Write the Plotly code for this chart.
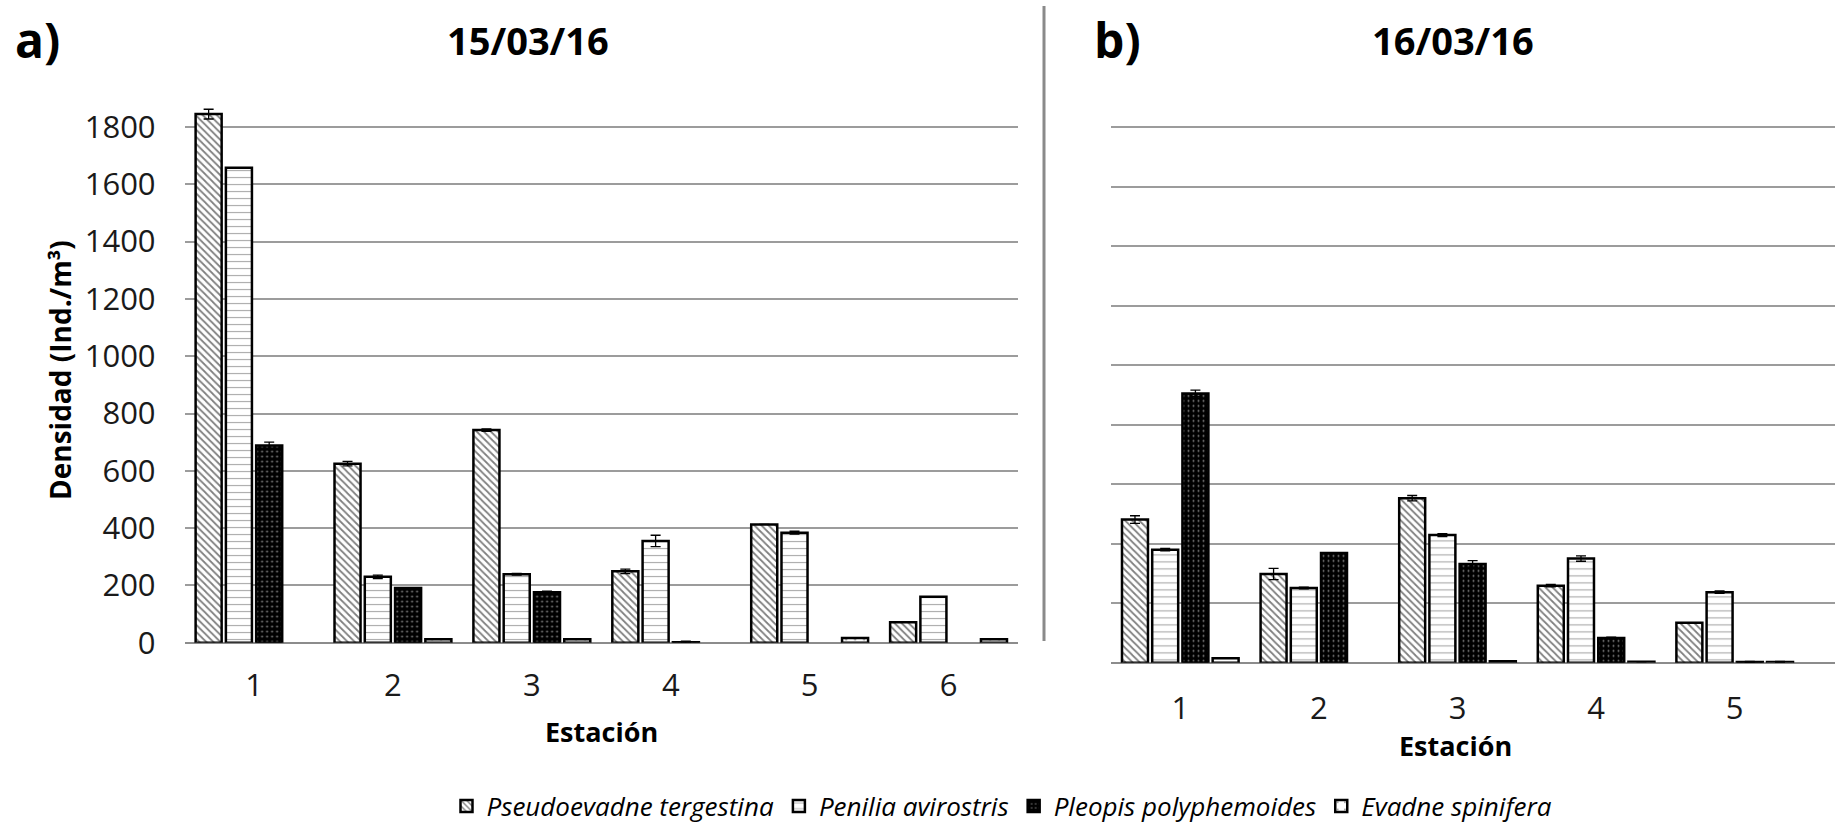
import plotly.graph_objects as go

W, H = 1835, 827

species = ["Pseudoevadne tergestina", "Penilia avirostris", "Pleopis polyphemoides", "Evadne spinifera"]

# Panel a) 15/03/16 - stations 1..6
stations_a = [1, 2, 3, 4, 5, 6]
pseudo_a = [1845, 625, 742, 249, 413, 71]
penilia_a = [1658, 230, 239, 355, 384, 160]
pleopis_a = [688, 191, 176, 2, None, None]
evadne_a = [None, 12, 12, None, 16, 12]
pseudo_a_err = [17, 8, 4, 8, 0, 0]
penilia_a_err = [0, 6, 3, 20, 5, 0]
pleopis_a_err = [12, 0, 4, 3, 0, 0]
evadne_a_err = [0, 0, 0, 0, 0, 0]

# Panel b) 16/03/16 - stations 1..5
stations_b = [1, 2, 3, 4, 5]
pseudo_b = [481, 298, 553, 259, 134]
penilia_b = [380, 251, 429, 350, 237]
pleopis_b = [905, 369, 332, 83, 2]
evadne_b = [15, None, 5, 3, 2]
pseudo_b_err = [13, 19, 9, 4, 0]
penilia_b_err = [4, 3, 5, 9, 4]
pleopis_b_err = [11, 0, 11, 3, 2]
evadne_b_err = [0, 0, 0, 0, 2]

y_ticks = [0, 200, 400, 600, 800, 1000, 1200, 1400, 1600, 1800]

FONT = "Open Sans"

patterns = [
    dict(color="white", pattern=dict(shape="\\", fgcolor="black", bgcolor="white", size=5, solidity=0.35)),
    dict(color="white", pattern=dict(shape="-", fgcolor="#555555", bgcolor="white", size=7, solidity=0.16)),
    dict(color="black", pattern=dict(shape=".", fgcolor="white", bgcolor="black", size=5, solidity=0.12)),
    dict(color="white", pattern=dict(shape=".", fgcolor="black", bgcolor="white", size=9, solidity=0.04)),
]

data_a = [(pseudo_a, pseudo_a_err), (penilia_a, penilia_a_err), (pleopis_a, pleopis_a_err), (evadne_a, evadne_a_err)]
data_b = [(pseudo_b, pseudo_b_err), (penilia_b, penilia_b_err), (pleopis_b, pleopis_b_err), (evadne_b, evadne_b_err)]

fig = go.Figure()
for i, name in enumerate(species):
    vals, errs = data_a[i]
    fig.add_trace(go.Bar(
        x=stations_a, y=vals, name="<i>" + name + "</i>", legendgroup=name,
        marker=dict(color=patterns[i]["color"], pattern=patterns[i]["pattern"],
                    line=dict(color="black", width=2.5)),
        error_y=dict(type="data", array=errs, visible=True, color="black", thickness=1.3, width=5),
        xaxis="x", yaxis="y", showlegend=True,
    ))
for i, name in enumerate(species):
    vals, errs = data_b[i]
    fig.add_trace(go.Bar(
        x=stations_b, y=vals, name="<i>" + name + "</i>", legendgroup=name,
        marker=dict(color=patterns[i]["color"], pattern=patterns[i]["pattern"],
                    line=dict(color="black", width=2.5)),
        error_y=dict(type="data", array=errs, visible=True, color="black", thickness=1.3, width=5),
        xaxis="x2", yaxis="y2", showlegend=False,
    ))

def px_x(p):
    return p / W

def px_y(p):
    return 1 - p / H

YMAX = 1880
# panel a: 0 at 642.7 px, 0.2865 px per unit
ya0 = 642.7
ya_top = ya0 - YMAX * 0.2865
# panel b: 0 at 662.7 px, 0.2975 px per unit
yb0 = 662.7
yb_top = yb0 - YMAX * 0.2975

grid_col = "#9c9c9c"
tickfont = dict(family=FONT, size=31, color="#1a1a1a")

fig.update_layout(
    width=W, height=H,
    margin=dict(l=0, r=0, t=0, b=0, autoexpand=False),
    paper_bgcolor="white", plot_bgcolor="white",
    barmode="group", bargap=0.128, bargroupgap=0.14,
    font=dict(family=FONT, color="black"),
    xaxis=dict(domain=[px_x(184.6), px_x(1018)], range=[0.5, 6.5], tickvals=stations_a,
               ticktext=[str(s) for s in stations_a], showgrid=False, zeroline=False,
               showline=False, ticks="", tickfont=tickfont, ticklabelstandoff=21, anchor="y",
               automargin=False),
    yaxis=dict(domain=[px_y(ya0), px_y(ya_top)], range=[0, YMAX], tickvals=y_ticks,
               showgrid=True, gridcolor=grid_col, gridwidth=1.5, zeroline=True,
               zerolinecolor="#8c8c8c", zerolinewidth=2, showline=False, ticks="",
               tickfont=tickfont, ticklabelstandoff=28, anchor="x", automargin=False),
    xaxis2=dict(domain=[px_x(1111), 1.0], range=[0.5, 0.5 + 724 / 138.6], tickvals=stations_b,
                ticktext=[str(s) for s in stations_b], showgrid=False, zeroline=False,
                showline=False, ticks="", tickfont=tickfont, ticklabelstandoff=24, anchor="y2",
                automargin=False),
    yaxis2=dict(domain=[px_y(yb0), px_y(yb_top)], range=[0, YMAX], tickvals=y_ticks,
                showgrid=True, gridcolor=grid_col, gridwidth=1.5, zeroline=True,
                zerolinecolor="#8c8c8c", zerolinewidth=2, showline=False, ticks="",
                showticklabels=False, anchor="x2", automargin=False),
    legend=dict(orientation="h", x=px_x(1002), xanchor="center", y=px_y(806), yanchor="middle",
                font=dict(family=FONT, size=26, color="black"), itemwidth=30,
                bgcolor="rgba(0,0,0,0)"),
    showlegend=True,
)

annotations = [
    dict(text="<b>a)</b>", x=px_x(37), y=px_y(40), font=dict(size=48)),
    dict(text="<b>15/03/16</b>", x=px_x(528), y=px_y(40), font=dict(size=38)),
    dict(text="<b>b)</b>", x=px_x(1117), y=px_y(40), font=dict(size=48)),
    dict(text="<b>16/03/16</b>", x=px_x(1453), y=px_y(40), font=dict(size=38)),
    dict(text="<b>Estación</b>", x=px_x(601), y=px_y(731), font=dict(size=27)),
    dict(text="<b>Estación</b>", x=px_x(1455), y=px_y(745), font=dict(size=27)),
    dict(text="<b>Densidad (Ind./m³)</b>", x=px_x(60), y=px_y(370), textangle=-90, font=dict(size=28)),
]
for a in annotations:
    a.update(xref="paper", yref="paper", showarrow=False, xanchor="center", yanchor="middle")
    a["font"].update(family=FONT, color="black")
fig.update_layout(annotations=annotations)

fig.add_shape(type="line", xref="paper", yref="paper",
              x0=px_x(1044), x1=px_x(1044), y0=px_y(641), y1=px_y(6),
              line=dict(color="#8a8a8a", width=3))

fig.write_html("out.html")
